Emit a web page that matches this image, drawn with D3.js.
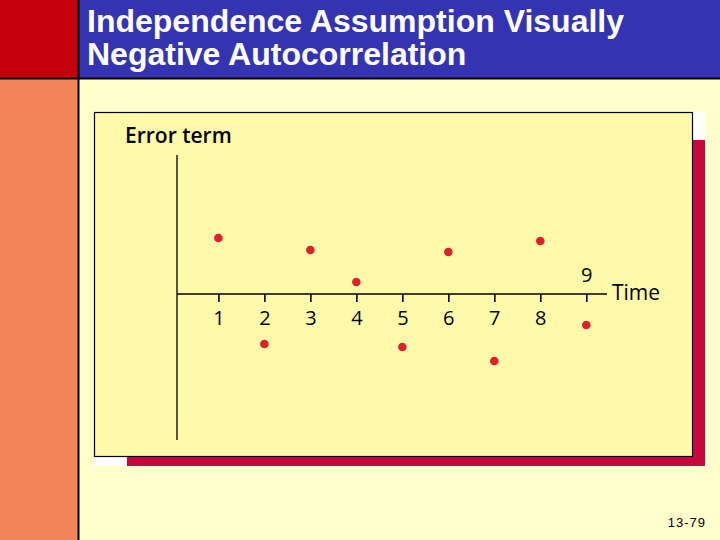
<!DOCTYPE html>
<html>
<head>
<meta charset="utf-8">
<script src="https://cdn.jsdelivr.net/npm/d3@7"></script>
<style>
  html, body { margin: 0; padding: 0; background: #ffffcc; }
  svg { display: block; }
</style>
</head>
<body>
<script>
// time periods and error term values (arbitrary units, 0 = time axis)
let periods = [1, 2, 3, 4, 5, 6, 7, 8, 9];
let errors = [2.8, -2.5, 2.2, 0.6, -2.65, 2.1, -3.35, 2.65, -1.55];
let titleLines = ["Independence Assumption Visually", "Negative Autocorrelation"];
let slideNumber = "13-79";

let width = 720;
let height = 540;

let svg = d3.select("body")
  .append("svg")
  .attr("width", width)
  .attr("height", height);

// slide background
svg.append("rect").attr("width", width).attr("height", height).attr("fill", "#ffffcc");
svg.append("rect").attr("x", 0).attr("y", 0).attr("width", 78).attr("height", 78).attr("fill", "#c4000c");
svg.append("rect").attr("x", 78).attr("y", 0).attr("width", width - 78).attr("height", 78).attr("fill", "#3434b2");
svg.append("rect").attr("x", 0).attr("y", 78).attr("width", 78).attr("height", height - 78).attr("fill", "#f2845a");
svg.append("line").attr("x1", 78.5).attr("x2", 78.5).attr("y1", 0).attr("y2", height)
  .attr("stroke", "#000").attr("stroke-width", 2);
svg.append("line").attr("x1", 0).attr("x2", width).attr("y1", 78.5).attr("y2", 78.5)
  .attr("stroke", "#000").attr("stroke-width", 2);

svg.append("g")
  .selectAll("text")
  .data(titleLines)
  .join("text")
    .attr("x", 87)
    .attr("y", (d, i) => 32 + i * 33)
    .attr("fill", "#fff")
    .attr("font-family", "Liberation Sans, Arial, sans-serif")
    .attr("font-weight", "bold")
    .attr("font-size", 32)
    .text(d => d);

svg.append("text")
  .attr("x", 706).attr("y", 527)
  .attr("text-anchor", "end")
  .attr("font-family", "Liberation Sans, Arial, sans-serif")
  .attr("font-size", 13)
  .attr("letter-spacing", 1)
  .attr("fill", "#000")
  .text(slideNumber);

// chart panel with shadow
svg.append("rect").attr("x", 94).attr("y", 112).attr("width", 611).attr("height", 354).attr("fill", "#ffffff");
svg.append("rect").attr("x", 127).attr("y", 140).attr("width", 578).attr("height", 326).attr("fill", "#c8083c");
svg.append("rect").attr("x", 94.5).attr("y", 112.5).attr("width", 598).attr("height", 344)
  .attr("fill", "#fffaaa").attr("stroke", "#000").attr("stroke-width", 1.2);

let x = d3.scaleLinear()
  .domain([0.1, 9.45])
  .range([177, 607]);

let y = d3.scaleLinear()
  .domain([-7.3, 6.95])
  .range([440, 155]);

let font = "Open Sans, Noto Sans, sans-serif";

// x axis (time)
let xAxis = g => g
  .attr("transform", `translate(0,${y(0)})`)
  .call(d3.axisBottom(x).tickValues(periods).tickSize(8).tickSizeOuter(0).tickPadding(9))
  .call(g => g.select(".domain").attr("d", `M${x.range()[0]},0H${x.range()[1]}`).attr("stroke-width", 1.6))
  .call(g => g.selectAll(".tick line").attr("stroke-width", 1.6))
  .call(g => g.selectAll(".tick text")
      .attr("font-family", font)
      .attr("font-size", 20)
      .attr("fill", "#000"))
  .call(g => g.selectAll(".tick").filter(d => d == 9).select("text")
      .attr("y", -12).attr("dy", "0"));

svg.append("g").call(xAxis);

// y axis (error term)
svg.append("line")
  .attr("x1", x.range()[0]).attr("x2", x.range()[0])
  .attr("y1", y.range()[0]).attr("y2", y.range()[1])
  .attr("stroke", "#000").attr("stroke-width", 1.3);

svg.append("text")
  .attr("x", 125).attr("y", 143)
  .attr("font-family", font)
  .attr("font-size", 21)
  .attr("font-weight", 600)
  .attr("fill", "#000")
  .text("Error term");

svg.append("text")
  .attr("x", 612).attr("y", 300)
  .attr("font-family", font)
  .attr("font-size", 21)
  .attr("fill", "#000")
  .text("Time");

// error points
svg.append("g")
  .selectAll("circle")
  .data(periods)
  .join("circle")
    .attr("cx", d => x(d))
    .attr("cy", (d, i) => y(errors[i]))
    .attr("r", 4.3)
    .attr("fill", "#e0202a");
</script>
</body>
</html>
